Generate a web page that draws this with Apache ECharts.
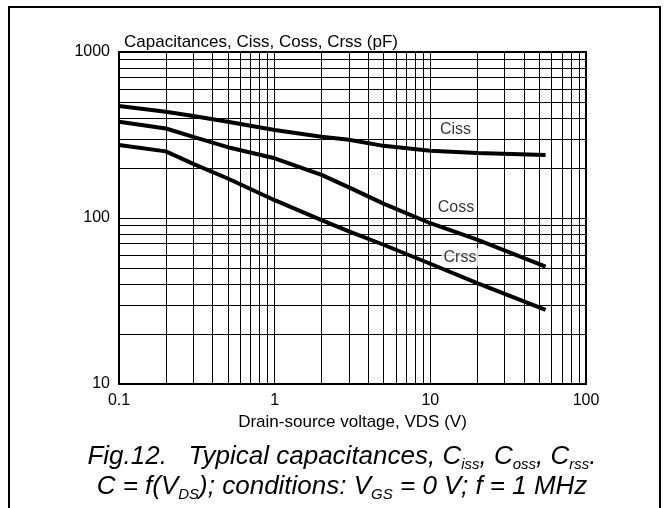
<!DOCTYPE html>
<html>
<head>
<meta charset="utf-8">
<script src="https://cdn.jsdelivr.net/npm/echarts@6/dist/echarts.min.js"></script>
<style>
html,body{margin:0;padding:0;background:#fff}
#chart{width:669px;height:508px}
</style>
</head>
<body>
<div id="chart"></div>
<script>
// capacitances vs drain-source voltage
var vds  = [0.1, 0.2, 0.3, 0.5, 1, 2, 3, 5, 10, 20, 55];
var ciss = [473, 437, 412, 380, 339, 309, 296, 272, 254, 246, 240];
var coss = [380, 346, 308, 267, 229, 182, 153, 122, 93, 74, 51];
var crss = [275, 252, 212, 173, 128, 97, 83, 69, 53, 40.5, 28];

var curveNames = ['Ciss', 'Coss', 'Crss'];
var curveLabelAt = [[14.5, 339], [14.6, 115], [15.5, 58]];

// minor gridlines of the log paper
var xMinor = [0.2, 0.3, 0.4, 0.5, 0.6, 0.7, 0.8, 0.9, 2, 3, 4, 5, 6, 7, 8, 9, 20, 30, 40, 50, 60, 70, 80, 90];
var yMinor = [20, 30, 40, 50, 60, 70, 80, 90, 200, 300, 400, 500, 600, 700, 800, 900];

var FONT = '"Liberation Sans", Arial, sans-serif';

function pairs(xs, ys) {
	var out = [];
	for (var i = 0; i < xs.length; i++) {
		out.push([xs[i], ys[i]]);
	}
	return out;
}

var gridLines = [];
for (var i = 0; i < xMinor.length; i++) gridLines.push({xAxis: xMinor[i]});
for (var j = 0; j < yMinor.length; j++) gridLines.push({yAxis: yMinor[j]});

var curveStyle = {color: '#000', width: 4};
// caption: normal text + subscripts
var sub = {fontSize: 15, fontStyle: 'italic', fontFamily: FONT, color: '#000', lineHeight: 30, verticalAlign: 'bottom'};
var nrm = {fontSize: 26, fontStyle: 'italic', fontFamily: FONT, color: '#000', lineHeight: 30};

var myChart = echarts.init(document.getElementById('chart'));
var option = {
	backgroundColor: '#fff',
	animation: false,
	grid: {
		left: 119, right: 83, top: 52, bottom: 124,
		show: true, borderColor: '#000', borderWidth: 2
	},
	xAxis: {
		type: 'log', logBase: 10, min: 0.1, max: 100,
		name: 'Drain-source voltage, VDS (V)',
		nameLocation: 'middle', nameGap: 29,
		nameTextStyle: {fontSize: 17, color: '#000', fontFamily: FONT},
		axisLine: {lineStyle: {color: '#000', width: 2}},
		axisTick: {show: false},
		axisLabel: {
			fontSize: 16, color: '#000', fontFamily: FONT, margin: 9,
			formatter: function (v) { return String(+v.toPrecision(3)); }
		},
		splitLine: {show: true, lineStyle: {color: '#000', width: 1}}
	},
	yAxis: {
		type: 'log', logBase: 10, min: 10, max: 1000,
		axisLine: {lineStyle: {color: '#000', width: 2}},
		axisTick: {show: false},
		axisLabel: {
			fontSize: 16, color: '#000', fontFamily: FONT, margin: 9,
			formatter: function (v) { return String(Math.round(v)); }
		},
		splitLine: {show: true, lineStyle: {color: '#000', width: 1}}
	},
	graphic: [
		{
			type: 'rect', silent: true, z: 100,
			shape: {x: 9, y: 7, width: 651, height: 520},
			style: {fill: 'none', stroke: '#000', lineWidth: 2}
		},
		{
			type: 'text', x: 124, y: 42, silent: true,
			style: {
				text: 'Capacitances, Ciss, Coss, Crss (pF)',
				font: '17px ' + FONT, fill: '#000',
				textAlign: 'left', textVerticalAlign: 'middle'
			}
		},
		{
			type: 'text', x: 342, y: 457, silent: true,
			style: {
				text: '{n|Fig.12.   Typical capacitances, C}{s|iss}{n|, C}{s|oss}{n|, C}{s|rss}{n|.}',
				rich: {n: nrm, s: sub},
				textAlign: 'center', textVerticalAlign: 'middle'
			}
		},
		{
			type: 'text', x: 342, y: 487, silent: true,
			style: {
				text: '{n|C = f(V}{s|DS}{n|); conditions: V}{s|GS}{n| = 0 V; f = 1 MHz}',
				rich: {n: nrm, s: sub},
				textAlign: 'center', textVerticalAlign: 'middle'
			}
		}
	],
	series: [
		{
			name: 'paper', type: 'line', data: [], z: 1, silent: true,
			markLine: {
				silent: true, symbol: ['none', 'none'],
				label: {show: false},
				lineStyle: {color: '#000', width: 1, type: 'solid'},
				data: gridLines
			}
		},
		{name: curveNames[0], type: 'line', z: 3, showSymbol: false, lineStyle: curveStyle, data: pairs(vds, ciss)},
		{name: curveNames[1], type: 'line', z: 3, showSymbol: false, lineStyle: curveStyle, data: pairs(vds, coss)},
		{name: curveNames[2], type: 'line', z: 3, showSymbol: false, lineStyle: curveStyle, data: pairs(vds, crss)},
		{
			name: 'labels', type: 'scatter', z: 5, symbolSize: 0, silent: true,
			label: {
				show: true, position: 'inside', formatter: '{b}',
				fontSize: 16, color: '#000', fontFamily: FONT,
				backgroundColor: '#fff', padding: [1, 2]
			},
			data: curveNames.map(function (n, i) {
				return {name: n, value: curveLabelAt[i]};
			})
		}
	]
};
myChart.setOption(option);
</script>
</body>
</html>
